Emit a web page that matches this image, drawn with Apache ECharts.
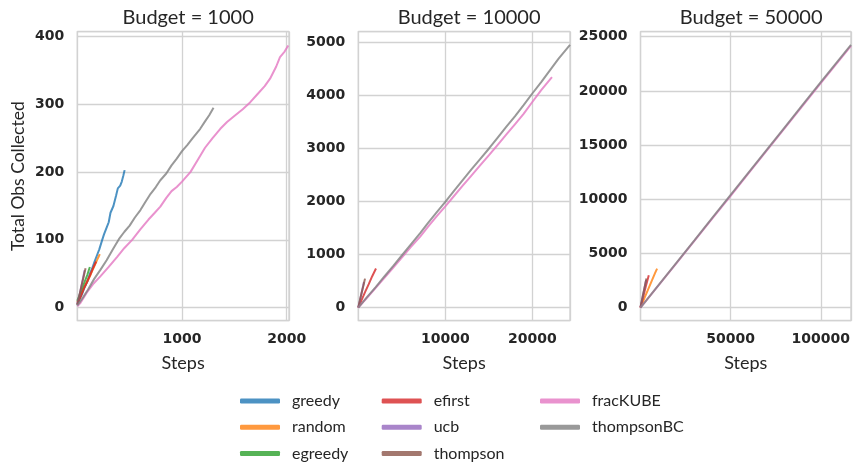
<!DOCTYPE html>
<html><head><meta charset="utf-8">
<script src="https://cdn.jsdelivr.net/npm/echarts@6/dist/echarts.min.js"></script>
<style>html,body{margin:0;padding:0;background:#fff}#c{width:853px;height:467px}</style>
</head><body><div id="c"></div>
<script>
// ---- Data (steps, total obs collected) ----
const titles = ['Budget = 1000', 'Budget = 10000', 'Budget = 50000'];
const seriesNames = ['greedy', 'random', 'egreedy', 'efirst', 'ucb', 'thompson', 'fracKUBE', 'thompsonBC'];
const seriesColors = ['rgba(31,119,180,0.8)', 'rgba(255,127,14,0.8)', 'rgba(44,160,44,0.8)', 'rgba(214,39,40,0.8)',
  'rgba(148,103,189,0.8)', 'rgba(140,86,75,0.8)', 'rgba(227,119,194,0.8)', 'rgba(127,127,127,0.8)'];

// Budget = 1000
const b1_greedy = [[0,4],[20,12],[45,20],[70,30],[95,38],[120,50],[140,57],[165,68],[190,78],[210,86],[238,100],[255,108],[280,118],[300,126],[317,140],[345,150],[370,165],[387,176],[410,180],[425,186],[440,195],[452,203]];
const b1_random = [[0,8],[30,18],[60,28],[90,37],[120,46],[150,57],[180,67],[200,74],[215,79]];
const b1_egreedy = [[0,10],[20,18],[45,28],[70,38],[95,48],[120,60]];
const b1_efirst = [[0,5],[30,15],[60,27],[90,37],[120,47],[150,58],[180,68]];
const b1_ucb = [[0,6],[20,18],[45,36],[70,55]];
const b1_thompson = [[0,4],[15,14],[40,32],[60,45],[79,58]];
const b1_fracKUBE = [[0,2],[31,7],[90,22],[158,36],[220,46],[300,60],[381,75],[450,88],[524,100],[600,115],[680,130],[740,140],[793,149],[850,162],[900,172],[950,178],[1000,186],[1080,200],[1150,218],[1220,236],[1290,250],[1366,264],[1430,274],[1500,283],[1580,293],[1650,303],[1720,315],[1790,327],[1841,338],[1900,356],[1936,370],[1980,378],[2015,387]];
const b1_thompsonBC = [[0,3],[50,14],[100,26],[160,42],[222,56],[280,70],[340,86],[397,101],[450,112],[500,121],[550,133],[603,144],[650,156],[700,168],[750,178],[793,188],[850,198],[900,210],[950,220],[1000,231],[1050,240],[1100,250],[1174,264],[1220,275],[1260,284],[1301,295]];

// Budget = 10000
const b2_efirst = [[0,0],[400,150],[800,300],[1200,440],[1600,590],[2034,735]];
const b2_ucb = [[0,0],[200,140],[450,330],[650,480]];
const b2_thompson = [[0,0],[200,150],[400,290],[600,420],[770,545]];
const b2_fracKUBE = [[0,0],[1000,185],[2000,370],[3000,560],[4000,750],[5000,940],[6000,1135],[7090,1330],[8000,1520],[9000,1715],[10000,1905],[11000,2100],[12000,2295],[13000,2485],[14000,2675],[15000,2865],[16000,3060],[17000,3255],[18000,3450],[19000,3645],[20000,3870],[21000,4090],[22260,4340]];
const b2_thompsonBC = [[0,0],[1000,195],[2000,385],[3000,585],[4000,780],[5000,980],[6000,1180],[7090,1395],[8000,1590],[9000,1790],[10000,1990],[11000,2195],[12000,2400],[13000,2600],[14000,2795],[15000,2990],[16000,3195],[17000,3400],[18000,3600],[19000,3810],[20000,4030],[21000,4240],[22000,4460],[23000,4680],[24333,4946]];

// Budget = 50000
const b3_random = [[0,0],[2000,800],[4000,1580],[6000,2380],[8000,3150],[9200,3600]];
const b3_efirst = [[0,0],[1500,1000],[3000,1990],[4600,2990]];
const b3_ucb = [[0,0],[1200,1000],[2500,2050],[3100,2550]];
const b3_thompson = [[0,0],[1000,850],[2200,1800],[3300,2680]];
const b3_fracKUBE = [[0,0],[10000,2040],[20000,4100],[30000,6170],[40000,8250],[50000,10320],[60000,12400],[70000,14480],[80000,16560],[90000,18640],[100000,20720],[110000,22780],[116750,24160]];
const b3_thompsonBC = [[0,0],[10000,2080],[20000,4150],[30000,6230],[40000,8320],[50000,10400],[60000,12480],[70000,14560],[80000,16640],[90000,18720],[100000,20800],[110000,22870],[116750,24250]];

const panelData = [
  {greedy: b1_greedy, random: b1_random, egreedy: b1_egreedy, efirst: b1_efirst, ucb: b1_ucb, thompson: b1_thompson, fracKUBE: b1_fracKUBE, thompsonBC: b1_thompsonBC},
  {efirst: b2_efirst, ucb: b2_ucb, thompson: b2_thompson, fracKUBE: b2_fracKUBE, thompsonBC: b2_thompsonBC},
  {random: b3_random, efirst: b3_efirst, ucb: b3_ucb, thompson: b3_thompson, fracKUBE: b3_fracKUBE, thompsonBC: b3_thompsonBC}
];

// axis ranges
const xMax = [2022, 24333, 116750];
const xStep = [1000, 10000, 50000];
const yMin = [-19.4, -247.3, -1212.5];
const yMax = [407.4, 5193.3, 25462.5];
const yStep = [100, 1000, 5000];

// ---- Chart ----
const txt = '#262626';
const gridColor = '#d2d2d2';
const font = 'Lato';
const lefts = [77.3, 358.3, 640.5];
const widths = [211.7, 211.7, 211.2];
const plain = v => String(v);

const grid = lefts.map((l, i) => ({left: l, top: 31.7, width: widths[i], height: 289, show: true,
  borderColor: gridColor, borderWidth: 1.3, backgroundColor: 'transparent', containLabel: false}));

const title = titles.map((t, i) => ({text: t, left: lefts[i] + widths[i] / 2, top: 3, textAlign: 'center',
  textStyle: {fontFamily: font, fontSize: 20, fontWeight: 'normal', color: txt}}));

const xAxis = xMax.map((m, i) => ({type: 'value', gridIndex: i, min: 0, max: m,
  minInterval: xStep[i], maxInterval: xStep[i],
  name: 'Steps', nameLocation: 'middle', nameGap: 33,
  nameTextStyle: {fontFamily: font, fontSize: 18, color: txt},
  axisLine: {show: false}, axisTick: {show: false},
  axisLabel: {formatter: plain, showMinLabel: false, showMaxLabel: false, margin: 12, color: txt, fontFamily: 'DejaVu Sans', fontWeight: 'bold', fontSize: 14},
  splitLine: {show: true, lineStyle: {color: gridColor, width: 1.3}}}));

const yAxis = yMin.map((m, i) => ({type: 'value', gridIndex: i, min: m, max: yMax[i],
  minInterval: yStep[i], maxInterval: yStep[i],
  name: i === 0 ? 'Total Obs Collected' : '', nameLocation: 'middle', nameGap: 50, nameRotate: 90,
  nameTextStyle: {fontFamily: font, fontSize: 17.5, color: txt},
  axisLine: {show: false}, axisTick: {show: false},
  axisLabel: {formatter: plain, showMinLabel: false, showMaxLabel: false, margin: 13, color: txt, fontFamily: 'DejaVu Sans', fontWeight: 'bold', fontSize: 14},
  splitLine: {show: true, lineStyle: {color: gridColor, width: 1.3}}}));

const series = [];
panelData.forEach((pd, p) => {
  seriesNames.forEach((n, k) => {
    if (!pd[n]) return;
    series.push({type: 'line', name: n, xAxisIndex: p, yAxisIndex: p, data: pd[n],
      showSymbol: false, symbol: 'none', animation: false, color: seriesColors[k],
      lineStyle: {width: 2, color: seriesColors[k]}, z: 2 + k});
  });
});

const legendCols = [['greedy', 'random', 'egreedy'], ['efirst', 'ucb', 'thompson'], ['fracKUBE', 'thompsonBC']];
const legendLefts = [240, 381.7, 540];
const legend = legendCols.map((d, i) => ({data: d, orient: 'vertical', left: legendLefts[i], top: 391,
  height: 120, width: 200, padding: 0,
  itemWidth: 40, itemHeight: 5, itemGap: 6.3, icon: 'roundRect', selectedMode: false,
  textStyle: {fontFamily: font, fontSize: 16, color: txt, lineHeight: 20, padding: [0, 0, 0, 7]}}));

const chart = echarts.init(document.getElementById('c'), null, {renderer: 'canvas'});
chart.setOption({animation: false, backgroundColor: '#fff', title, grid, xAxis, yAxis, legend, series});
</script></body></html>
